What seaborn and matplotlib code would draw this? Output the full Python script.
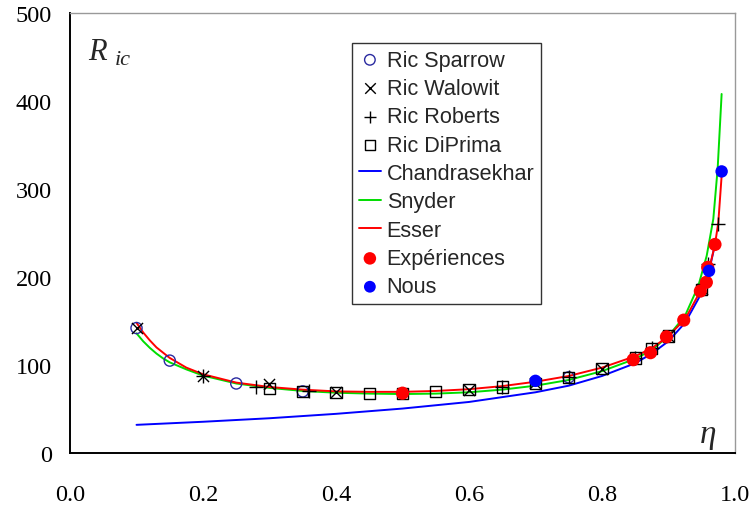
import numpy as np
import pandas as pd
import matplotlib
matplotlib.use("Agg")
import matplotlib.pyplot as plt
import seaborn as sns
from matplotlib.ticker import MultipleLocator

# --- data ---
# theoretical curves
eta_chandra = [0.1, 0.2, 0.3, 0.4, 0.5, 0.6, 0.7, 0.75, 0.8, 0.85, 0.875, 0.9, 0.925, 0.95, 0.96, 0.97]
ric_chandra = [32, 35.5, 39.5, 44.5, 50.5, 58, 69, 76.5, 87.5, 102, 113, 127, 148, 182, 203, 237]

eta_snyder = [0.1, 0.11, 0.12, 0.13, 0.14, 0.15, 0.175, 0.2, 0.25, 0.3, 0.35, 0.4, 0.45, 0.5, 0.55,
              0.6, 0.65, 0.7, 0.75, 0.8, 0.85, 0.875, 0.9, 0.925, 0.945, 0.9575, 0.9675, 0.974, 0.98]
ric_snyder = [136, 127, 119.5, 113, 107.5, 103, 95, 88, 79, 74, 70.5, 68.5, 67.5, 67, 67.5,
              69, 72, 76.5, 83, 93, 107, 117, 133, 156, 190, 224, 266, 323, 408]

eta_esser = [0.1, 0.11, 0.12, 0.13, 0.14, 0.15, 0.175, 0.2, 0.25, 0.3, 0.35, 0.4, 0.45, 0.5, 0.55,
             0.6, 0.65, 0.7, 0.75, 0.8, 0.85, 0.875, 0.9, 0.925, 0.948, 0.96, 0.97, 0.975, 0.98]
ric_esser = [148, 137, 128, 120, 114, 108, 97, 89.5, 80, 75, 72, 70, 69.5, 69.5, 70.5,
             72.5, 76, 81, 87.5, 97, 110, 119, 133, 152, 184, 205, 237, 262, 315]

# published critical values
eta_sparrow = [0.1, 0.15, 0.25, 0.35, 0.75]
ric_sparrow = [142, 105, 79, 70, 86]

eta_walowit = [0.1, 0.2, 0.3, 0.4, 0.6, 0.7, 0.8, 0.9, 0.95]
ric_walowit = [142, 88, 78, 69, 72, 79, 96, 133, 186]

eta_roberts = [0.2, 0.28, 0.36, 0.65, 0.75, 0.85, 0.875, 0.96, 0.975]
ric_roberts = [88, 75, 71, 75, 86, 108, 119, 215, 260]

eta_diprima = [0.3, 0.35, 0.4, 0.45, 0.5, 0.55, 0.6, 0.65, 0.7, 0.75, 0.8, 0.85, 0.875, 0.9, 0.95]
ric_diprima = [73, 70, 69, 68, 68, 70, 72, 75, 79, 86, 96, 108, 119, 133, 186]

eta_exp = [0.5, 0.847, 0.873, 0.897, 0.923, 0.948, 0.957, 0.959, 0.970]
ric_exp = [68, 106, 114, 132, 151, 184, 194, 211, 237]

eta_nous = [0.7, 0.961, 0.98]
ric_nous = [82, 207, 320]

sns.set_style("white")
plt.rcParams['font.family'] = ['Liberation Serif', 'DejaVu Serif']

fig = plt.figure(figsize=(7.53, 5.10), dpi=100)
ax = fig.add_axes([0.093, 0.1098, 0.883, 0.8627])

# curves
for name, xs, ys, col in [("Chandrasekhar", eta_chandra, ric_chandra, "#0000ff"),
                          ("Snyder", eta_snyder, ric_snyder, "#00dd00"),
                          ("Esser", eta_esser, ric_esser, "#ff0000")]:
    sns.lineplot(x=xs, y=ys, ax=ax, color=col, linewidth=1.4, sort=False, zorder=2, label=name)

# markers
sns.scatterplot(x=eta_sparrow, y=ric_sparrow, ax=ax, marker="o", s=64, facecolors="none",
                edgecolor="#2a2aa0", linewidth=1.0, zorder=3, label="Ric Sparrow")
sns.scatterplot(x=eta_walowit, y=ric_walowit, ax=ax, marker="x", s=64, color="black",
                linewidth=1.0, zorder=3, label="Ric Walowit")
sns.scatterplot(x=eta_roberts, y=ric_roberts, ax=ax, marker="+", s=90, color="black",
                linewidth=1.0, zorder=3, label="Ric Roberts")
sns.scatterplot(x=eta_diprima, y=ric_diprima, ax=ax, marker="s", s=64, facecolors="none",
                edgecolor="black", linewidth=1.0, zorder=3, label="Ric DiPrima")
sns.scatterplot(x=eta_exp, y=ric_exp, ax=ax, marker="o", s=90, color="#ff0000",
                edgecolor="none", zorder=4, label="Expériences")
sns.scatterplot(x=eta_nous, y=ric_nous, ax=ax, marker="o", s=80, color="#0000ff",
                edgecolor="none", zorder=4, label="Nous")

h, l = ax.get_legend_handles_labels()
hmap = dict(zip(l, h))
order = ["Ric Sparrow", "Ric Walowit", "Ric Roberts", "Ric DiPrima",
         "Chandrasekhar", "Snyder", "Esser", "Expériences", "Nous"]
leg = ax.legend([hmap[k] for k in order], order, loc="upper left",
                bbox_to_anchor=(352 / 753, 1 - 44 / 510), bbox_transform=fig.transFigure,
                borderaxespad=0, frameon=True, fancybox=False, framealpha=1,
                prop={'family': 'Liberation Sans', 'size': 15.6},
                labelspacing=0.34, handlelength=1.05, handletextpad=0.25,
                borderpad=0.3, markerscale=0.95)
leg.get_frame().set_edgecolor("#333333")
leg.get_frame().set_linewidth(1.0)

ax.set_xlim(0, 1.0)
ax.set_ylim(0, 500)
ax.xaxis.set_major_locator(MultipleLocator(0.2))
ax.xaxis.set_minor_locator(MultipleLocator(0.1))
ax.yaxis.set_major_locator(MultipleLocator(100))
ax.yaxis.set_minor_locator(MultipleLocator(50))
ax.xaxis.set_major_formatter(matplotlib.ticker.FormatStrFormatter('%.1f'))
ax.tick_params(which="both", direction="in", colors="black", width=1.0)
ax.tick_params(axis="x", which="major", length=6, pad=22, labelsize=17.5)
ax.tick_params(axis="y", which="major", length=6, pad=13, labelsize=17.5)
ax.tick_params(which="minor", length=4.5)
ax.tick_params(top=False, right=False, which="both")

for side in ["left", "bottom"]:
    ax.spines[side].set_color("black")
    ax.spines[side].set_linewidth(1.4)
for side in ["top", "right"]:
    ax.spines[side].set_color("#999999")
    ax.spines[side].set_linewidth(1.0)

ax.text(0.027, 0.945, "R", transform=ax.transAxes, fontsize=22, style="italic",
        family="Liberation Serif", va="top", ha="left")
ax.text(0.068, 0.915, "ic", transform=ax.transAxes, fontsize=16, style="italic",
        family="Liberation Serif", va="top", ha="left")
ax.text(0.947, 0.008, "η", transform=ax.transAxes, fontsize=24, style="italic",
        family="Liberation Serif", va="bottom", ha="left")

plt.savefig("out.png", dpi=100)
